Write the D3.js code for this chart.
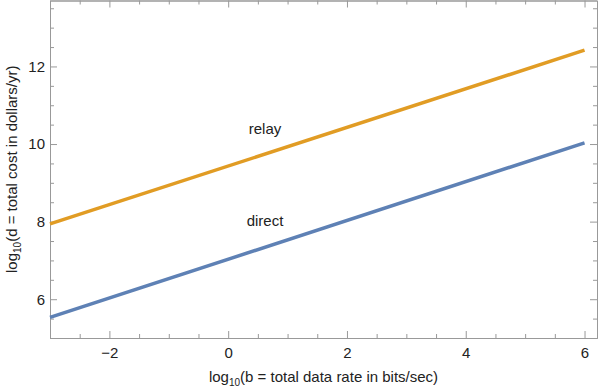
<!DOCTYPE html>
<html>
<head>
<meta charset="utf-8">
<script src="https://cdn.jsdelivr.net/npm/d3@7"></script>
<style>
  body { margin: 0; background: #fff; }
  text { font-family: "Liberation Sans", Arial, sans-serif; }
</style>
</head>
<body>
<div id="chart"></div>
<script>
// data
const xs = [-3, 6];
const relay = [7.94, 12.42];
const direct = [5.53, 10.03];
const xMajor = [-2, 0, 2, 4, 6];
const yMajor = [6, 8, 10, 12];
const labels = [
  { name: "relay", x: 0.62, y: 10.27 },
  { name: "direct", x: 0.62, y: 7.89 }
];

const W = 598, H = 389;
const mLeft = 50, mRight = 597, mTop = 0.5, mBottom = 338;

const svg = d3.select("#chart").append("svg")
    .attr("width", W)
    .attr("height", H);

const x = d3.scaleLinear().domain([-3, 6.21]).range([mLeft, mRight]);
const y = d3.scaleLinear().domain([5, 13.7]).range([mBottom, mTop]);

const frameColor = "#999";
const textColor = "#222";
const xMinor = d3.range(-3, 6.3, 0.5).filter(v => !xMajor.includes(v));
const yMinor = d3.range(5, 13.8, 0.5).filter(v => !yMajor.includes(v));

// axes (ticks pointing inward, like a frame)
function styleAxis(g) {
  g.select(".domain").attr("stroke", frameColor);
  g.selectAll(".tick line").attr("stroke", frameColor);
  g.selectAll(".tick text").attr("fill", textColor).style("font-size", "15px");
}

svg.append("g").attr("transform", `translate(0,${mBottom})`)
  .call(d3.axisBottom(x).tickValues(xMinor).tickSize(-4).tickFormat("").tickSizeOuter(0))
  .call(styleAxis);
svg.append("g").attr("transform", `translate(0,${mBottom})`)
  .call(d3.axisBottom(x).tickValues(xMajor).tickSize(-7).tickPadding(9)
        .tickFormat(d => d < 0 ? "\u2212" + Math.abs(d) : d).tickSizeOuter(0))
  .call(styleAxis);
svg.append("g").attr("transform", `translate(0,${mTop})`)
  .call(d3.axisTop(x).tickValues(xMinor).tickSize(-4).tickFormat("").tickSizeOuter(0))
  .call(styleAxis);
svg.append("g").attr("transform", `translate(0,${mTop})`)
  .call(d3.axisTop(x).tickValues(xMajor).tickSize(-7).tickFormat("").tickSizeOuter(0))
  .call(styleAxis);

svg.append("g").attr("transform", `translate(${mLeft},0)`)
  .call(d3.axisLeft(y).tickValues(yMinor).tickSize(-4).tickFormat("").tickSizeOuter(0))
  .call(styleAxis);
svg.append("g").attr("transform", `translate(${mLeft},0)`)
  .call(d3.axisLeft(y).tickValues(yMajor).tickSize(-7).tickPadding(5).tickSizeOuter(0))
  .call(styleAxis);
svg.append("g").attr("transform", `translate(${mRight},0)`)
  .call(d3.axisRight(y).tickValues(yMinor).tickSize(-4).tickFormat("").tickSizeOuter(0))
  .call(styleAxis);
svg.append("g").attr("transform", `translate(${mRight},0)`)
  .call(d3.axisRight(y).tickValues(yMajor).tickSize(-7).tickFormat("").tickSizeOuter(0))
  .call(styleAxis);

// lines
const line = d3.line().x(d => x(d[0])).y(d => y(d[1]));
const plot = svg.append("g");
plot.append("path")
    .attr("d", line(xs.map((v, i) => [v, direct[i]])))
    .attr("fill", "none").attr("stroke", "#5E81B5").attr("stroke-width", 3.5);
plot.append("path")
    .attr("d", line(xs.map((v, i) => [v, relay[i]])))
    .attr("fill", "none").attr("stroke", "#E19C24").attr("stroke-width", 3.5);

// line labels
svg.selectAll(".lbl").data(labels).enter()
  .append("text")
    .attr("x", d => x(d.x))
    .attr("y", d => y(d.y))
    .attr("text-anchor", "middle")
    .attr("fill", textColor)
    .style("font-size", "15px")
    .text(d => d.name);

// axis titles
const xt = svg.append("text")
    .attr("x", (mLeft + mRight) / 2)
    .attr("y", 382)
    .attr("text-anchor", "middle")
    .attr("fill", textColor)
    .style("font-size", "15px");
xt.append("tspan").text("log");
xt.append("tspan").attr("dy", 4).style("font-size", "10px").text("10");
xt.append("tspan").attr("dy", -4).text("(b = total data rate in bits/sec)");

const yt = svg.append("text")
    .attr("transform", `translate(17,${(mTop + mBottom) / 2}) rotate(-90)`)
    .attr("text-anchor", "middle")
    .attr("fill", textColor)
    .style("font-size", "15px");
yt.append("tspan").text("log");
yt.append("tspan").attr("dy", 4).style("font-size", "10px").text("10");
yt.append("tspan").attr("dy", -4).text("(d = total cost in dollars/yr)");
</script>
</body>
</html>
